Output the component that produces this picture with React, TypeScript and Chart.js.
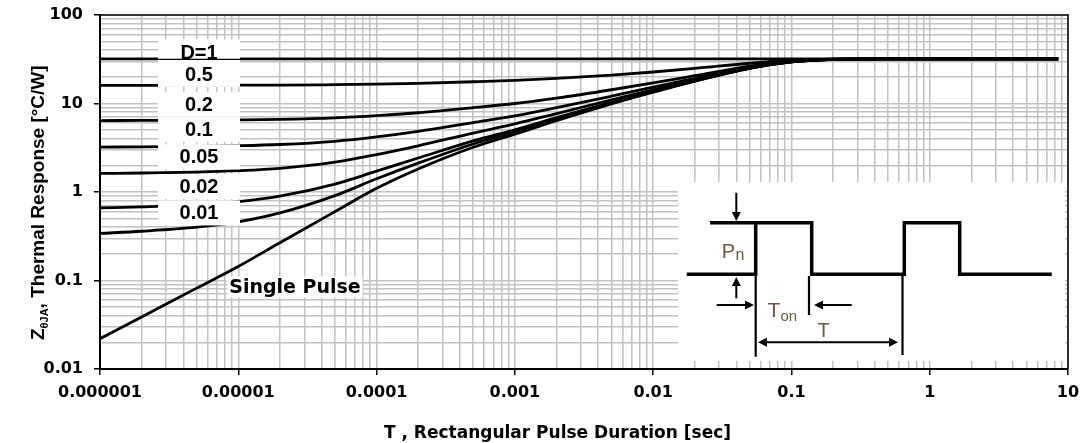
import React, { useEffect, useRef } from "react";
import { Chart, registerables } from "chart.js";

Chart.register(...registerables);

// Pulse duration T [sec]
const pulseDurations = [1e-6, 2e-6, 5e-6, 1e-5, 2e-5, 5e-5, 1e-4, 2e-4, 5e-4, 1e-3, 2e-3, 5e-3, 0.01, 0.02, 0.05, 0.1, 0.2, 0.5, 1, 2, 5, 8.5];

// Thermal response Z [°C/W] per duty cycle
const zD1 = [32, 32, 32, 32, 32, 32, 32, 32, 32, 32, 32, 32, 32, 32, 32, 32, 32, 32, 32, 32, 32, 32];
const zD05 = [16.0, 16.0, 16.0, 16.1, 16.1, 16.3, 16.55, 16.9, 17.6, 18.25, 19.2, 20.95, 22.7, 24.9, 28.5, 30.8, 31.8, 32, 32, 32, 32, 32];
const zD02 = [6.42, 6.43, 6.47, 6.52, 6.61, 6.88, 7.28, 7.86, 8.96, 10.0, 11.5, 14.3, 17.1, 20.6, 26.4, 30.0, 31.7, 32, 32, 32, 32, 32];
const zD01 = [3.22, 3.23, 3.27, 3.33, 3.44, 3.74, 4.19, 4.84, 6.08, 7.25, 8.96, 12.1, 15.3, 19.2, 25.7, 29.8, 31.6, 32, 32, 32, 32, 32];
const zD005 = [1.62, 1.64, 1.68, 1.74, 1.85, 2.17, 2.65, 3.33, 4.64, 5.88, 7.68, 11.0, 14.3, 18.5, 25.4, 29.6, 31.6, 32, 32, 32, 32, 32];
const zD002 = [0.66, 0.68, 0.72, 0.78, 0.9, 1.23, 1.72, 2.42, 3.78, 5.05, 6.91, 10.3, 13.8, 18.1, 25.1, 29.6, 31.6, 32, 32, 32, 32, 32];
const zD001 = [0.34, 0.36, 0.4, 0.46, 0.58, 0.91, 1.41, 2.12, 3.49, 4.78, 6.66, 10.1, 13.6, 17.9, 25.1, 29.5, 31.6, 32, 32, 32, 32, 32];
const zSingle = [0.022, 0.0387, 0.082, 0.144, 0.267, 0.6, 1.1, 1.82, 3.2, 4.5, 6.4, 9.9, 13.4, 17.9, 25, 29.5, 31.6, 32, 32, 32, 32, 32];

const seriesNames = ["D=1", "0.5", "0.2", "0.1", "0.05", "0.02", "0.01", "Single Pulse"];
const seriesValues = [zD1, zD05, zD02, zD01, zD005, zD002, zD001, zSingle];

// Axis ticks
const xDecades = [1e-6, 1e-5, 1e-4, 1e-3, 1e-2, 1e-1, 1, 10];
const xTickLabels = ["0.000001", "0.00001", "0.0001", "0.001", "0.01", "0.1", "1", "10"];
const yDecades = [0.01, 0.1, 1, 10, 100];
const yTickLabels = ["0.01", "0.1", "1", "10", "100"];

const xTitle = "T , Rectangular Pulse Duration [sec]";
const yTitleMain = "Z";
const yTitleSub = "θJA";
const yTitleRest = ", Thermal Response [°C/W]";

function gridValues(decades: number[]) {
  const out: number[] = [];
  decades.forEach((d, i) => {
    out.push(d);
    if (i < decades.length - 1) {
      for (let k = 2; k <= 9; k++) out.push(d * k);
    }
  });
  return out;
}

function decadeIndex(v: number, decades: number[]) {
  return decades.findIndex((d) => Math.abs(v / d - 1) < 1e-9);
}

const curveLabelPlugin = {
  id: "curveLabels",
  afterDatasetsDraw(chart: any) {
    const { ctx, scales } = chart;
    const xs = scales.x;
    const ys = scales.y;
    const cx = xs.getPixelForValue(5.2e-6);
    const anchorsZ = [38.2, 21.3, 9.8, 5.1, 2.49, 1.15, 0.58];
    ctx.save();
    ctx.fillStyle = "#ffffff";
    anchorsZ.forEach((z) => {
      const cy = ys.getPixelForValue(z);
      ctx.fillRect(cx - 41, cy - 12.5, 82, 25);
    });
    // thin D=1 line through its box
    const yD1 = ys.getPixelForValue(zD1[0]);
    ctx.strokeStyle = "#000";
    ctx.lineWidth = 1.3;
    ctx.beginPath();
    ctx.moveTo(cx - 41, yD1 + 0.5);
    ctx.lineTo(cx + 41, yD1 + 0.5);
    ctx.stroke();
    ctx.fillStyle = "#000";
    ctx.font = 'bold 20px "Liberation Sans"';
    ctx.textAlign = "center";
    ctx.textBaseline = "middle";
    anchorsZ.forEach((z, i) => {
      const cy = ys.getPixelForValue(z);
      ctx.fillText(seriesNames[i], cx, cy + 1);
    });
    // Single pulse label
    ctx.font = 'bold 19px "DejaVu Sans"';
    ctx.textAlign = "left";
    ctx.textBaseline = "alphabetic";
    const sx = xs.getPixelForValue(8.6e-6);
    const sy = ys.getPixelForValue(0.073);
    const w = ctx.measureText(seriesNames[7]).width;
    ctx.fillStyle = "#fff";
    ctx.fillRect(sx - 2, sy - 16, w + 4, 21);
    ctx.fillStyle = "#000";
    ctx.fillText(seriesNames[7], sx, sy);
    ctx.restore();
  },
};

function arrow(ctx: any, x1: number, y1: number, x2: number, y2: number) {
  const ang = Math.atan2(y2 - y1, x2 - x1);
  const L = 9;
  const H = 4.5;
  const bx = x2 - Math.cos(ang) * L;
  const by = y2 - Math.sin(ang) * L;
  ctx.beginPath();
  ctx.moveTo(x1, y1);
  ctx.lineTo(bx, by);
  ctx.stroke();
  ctx.beginPath();
  ctx.moveTo(x2, y2);
  ctx.lineTo(bx + Math.sin(ang) * H, by - Math.cos(ang) * H);
  ctx.lineTo(bx - Math.sin(ang) * H, by + Math.cos(ang) * H);
  ctx.closePath();
  ctx.fill();
}

const insetPlugin = {
  id: "pulseInset",
  afterDatasetsDraw(chart: any) {
    const { ctx } = chart;
    ctx.save();
    ctx.fillStyle = "#fff";
    ctx.fillRect(678, 182, 387, 179);
    ctx.strokeStyle = "#000";
    ctx.fillStyle = "#000";
    ctx.lineJoin = "miter";
    ctx.lineWidth = 3.5;
    ctx.beginPath();
    ctx.moveTo(686.7, 274.3);
    ctx.lineTo(755.7, 274.3);
    ctx.lineTo(755.7, 222.7);
    ctx.stroke();
    ctx.beginPath();
    ctx.moveTo(710, 222.7);
    ctx.lineTo(811.7, 222.7);
    ctx.lineTo(811.7, 274.3);
    ctx.lineTo(904.3, 274.3);
    ctx.lineTo(904.3, 222.7);
    ctx.lineTo(959.7, 222.7);
    ctx.lineTo(959.7, 274.3);
    ctx.lineTo(1051.7, 274.3);
    ctx.stroke();
    ctx.lineWidth = 2.2;
    ctx.beginPath();
    ctx.moveTo(755.7, 274);
    ctx.lineTo(755.7, 356.7);
    ctx.moveTo(809, 276);
    ctx.lineTo(809, 315);
    ctx.moveTo(902.5, 276);
    ctx.lineTo(902.5, 355);
    ctx.stroke();
    ctx.lineWidth = 2;
    arrow(ctx, 736.3, 192.7, 736.3, 221);
    arrow(ctx, 736.3, 298.3, 736.3, 277);
    arrow(ctx, 716.7, 305, 754, 305);
    arrow(ctx, 851.7, 305, 814, 305);
    arrow(ctx, 828, 342.3, 898, 342.3);
    arrow(ctx, 828, 342.3, 758, 342.3);
    ctx.fillStyle = "#6a5a3a";
    ctx.textAlign = "left";
    ctx.textBaseline = "alphabetic";
    ctx.font = '20px "Liberation Sans"';
    ctx.fillText("P", 721.7, 258.3);
    ctx.font = '16px "Liberation Sans"';
    ctx.fillText("n", 735.5, 260.3);
    ctx.font = '21px "Liberation Sans"';
    ctx.fillText("T", 767.5, 316.7);
    ctx.font = '15px "Liberation Sans"';
    ctx.fillText("on", 780.5, 320.7);
    ctx.font = '20px "Liberation Sans"';
    ctx.fillText("T", 817.5, 337.3);
    ctx.restore();
  },
};

const frameAndTitlesPlugin = {
  id: "frameTitles",
  afterDraw(chart: any) {
    const { ctx, chartArea } = chart;
    ctx.save();
    ctx.strokeStyle = "#000";
    ctx.lineWidth = 1.5;
    ctx.beginPath();
    ctx.moveTo(chartArea.left, chartArea.top);
    ctx.lineTo(chartArea.right, chartArea.top);
    ctx.lineTo(chartArea.right, chartArea.bottom);
    ctx.stroke();
    // x title
    ctx.fillStyle = "#000";
    ctx.font = 'bold 17px "DejaVu Sans"';
    ctx.textAlign = "center";
    ctx.textBaseline = "alphabetic";
    ctx.fillText(xTitle, 557.5, 438.3);
    // y title
    ctx.translate(43.5, 340);
    ctx.rotate(-Math.PI / 2);
    ctx.textAlign = "left";
    ctx.font = 'bold 19px "Liberation Sans"';
    ctx.fillText(yTitleMain, 0, 0);
    let off = ctx.measureText(yTitleMain).width;
    ctx.font = 'bold 11px "Liberation Sans"';
    ctx.fillText(yTitleSub, off, 4);
    off += ctx.measureText(yTitleSub).width;
    ctx.font = 'bold 19px "Liberation Sans"';
    ctx.fillText(yTitleRest, off, 0);
    ctx.restore();
  },
};

function zeroPadding(s: any) {
  s.paddingTop = 0;
  s.paddingBottom = 0;
  s.paddingLeft = 0;
  s.paddingRight = 0;
}

export default function App() {
  const canvasRef = useRef<HTMLCanvasElement | null>(null);

  useEffect(() => {
    const canvas = canvasRef.current;
    if (!canvas) return;
    const xGrid = gridValues(xDecades);
    const yGrid = gridValues(yDecades);
    const tickFont = { family: "DejaVu Sans", weight: "bold" as const, size: 16 };

    const chart = new Chart(canvas, {
      type: "line",
      data: {
        datasets: seriesValues.map((vals, i) => ({
          label: seriesNames[i],
          data: pulseDurations.map((t, j) => ({ x: t, y: vals[j] })),
          borderColor: "#000",
          borderWidth: 2.8,
          pointRadius: 0,
          fill: false,
          cubicInterpolationMode: "monotone" as const,
        })),
      },
      options: {
        responsive: false,
        maintainAspectRatio: false,
        animation: false,
        devicePixelRatio: 1,
        layout: { padding: { top: 15, right: 15, left: 0, bottom: 0 } },
        plugins: {
          legend: { display: false },
          tooltip: { enabled: false },
          title: { display: false },
        },
        scales: {
          x: {
            type: "logarithmic",
            min: 1e-6,
            max: 10,
            afterBuildTicks: (s: any) => {
              s.ticks = xGrid.map((v) => ({ value: v }));
            },
            afterFit: (s: any) => {
              s.height = 74;
              zeroPadding(s);
            },
            ticks: {
              autoSkip: false,
              maxRotation: 0,
              minRotation: 0,
              color: "#000",
              font: tickFont,
              padding: 8,
              callback: (v: any) => {
                const i = decadeIndex(Number(v), xDecades);
                return i >= 0 ? xTickLabels[i] : "";
              },
            },
            grid: {
              color: "#c2c2c2",
              lineWidth: 1.5,
              tickLength: 6,
              tickWidth: 1.5,
              tickColor: (c: any) =>
                c.tick && decadeIndex(c.tick.value, xDecades) >= 0 ? "#000" : "rgba(0,0,0,0)",
            },
            border: { color: "#000", width: 2 },
          },
          y: {
            type: "logarithmic",
            min: 0.01,
            max: 100,
            afterBuildTicks: (s: any) => {
              s.ticks = yGrid.map((v) => ({ value: v }));
            },
            afterFit: (s: any) => {
              s.width = 100;
              zeroPadding(s);
            },
            ticks: {
              autoSkip: false,
              color: "#000",
              font: tickFont,
              padding: 11,
              callback: (v: any) => {
                const i = decadeIndex(Number(v), yDecades);
                return i >= 0 ? yTickLabels[i] : "";
              },
            },
            grid: {
              color: "#c2c2c2",
              lineWidth: 1.5,
              tickLength: 6,
              tickWidth: 1.5,
              tickColor: (c: any) =>
                c.tick && decadeIndex(c.tick.value, yDecades) >= 0 ? "#000" : "rgba(0,0,0,0)",
            },
            border: { color: "#000", width: 2 },
          },
        },
      },
      plugins: [curveLabelPlugin, insetPlugin, frameAndTitlesPlugin],
    });
    return () => chart.destroy();
  }, []);

  return (
    <div style={{ position: "fixed", left: 0, top: 0, width: 1083, height: 443, background: "#fff" }}>
      <canvas ref={canvasRef} width={1083} height={443} style={{ display: "block", width: 1083, height: 443 }} />
    </div>
  );
}
